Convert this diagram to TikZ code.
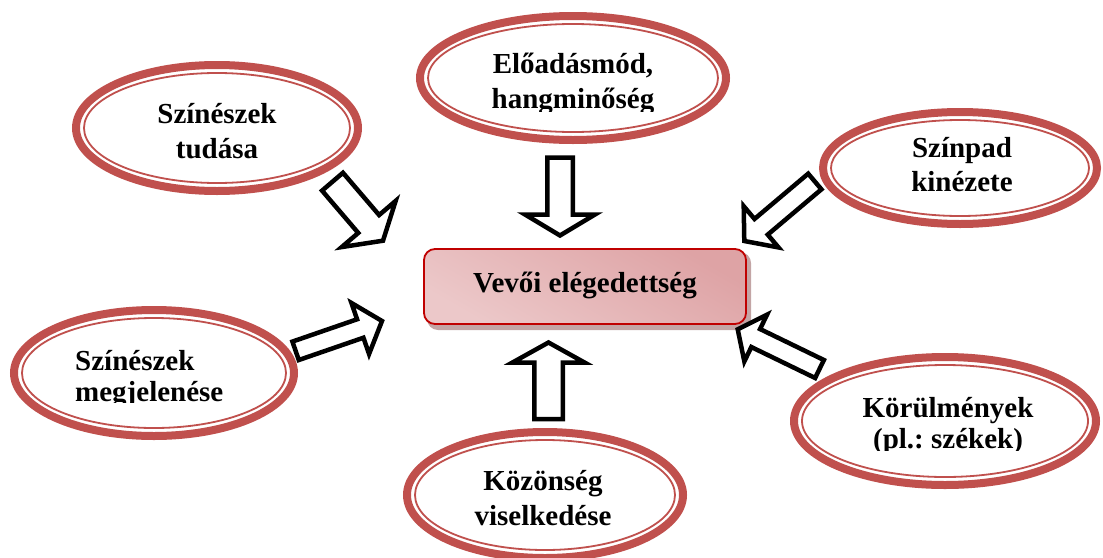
\documentclass[tikz,border=0pt]{standalone}
\usepackage{fontspec}
\setmainfont{Liberation Serif}
\frenchspacing
\usetikzlibrary{calc,shapes.geometric}
\definecolor{ringred}{RGB}{192,80,77}
\definecolor{boxred}{RGB}{192,0,0}
\definecolor{shadowc}{RGB}{195,165,165}
\definecolor{pinkA}{RGB}{236,200,201}
\definecolor{pinkB}{RGB}{247,232,233}
\definecolor{pinkC}{RGB}{222,163,165}
\tikzset{
  outerring/.style={ellipse, draw=ringred, line width=8pt, inner sep=0pt, fill=white},
  innerring/.style={ellipse, draw=ringred, line width=1.8pt, inner sep=0pt},
  lbl/.style={font=\bfseries\fontsize{29}{35}\selectfont, align=center, anchor=base, inner sep=0pt},
  barrow/.style={draw=black, line width=4.5pt, fill=white, line join=miter},
  centerbox/.style={draw=boxred, line width=1.8pt, rounded corners=11pt, inner sep=0pt,
    top color=pinkC, middle color=pinkB, bottom color=pinkA, shading angle=-30},
  boxshadow/.style={fill=shadowc, rounded corners=11pt},
}
\newcommand\ringnode[5]{%
  \node[outerring, minimum width={2*#4-8}, minimum height={2*#5-8}] (#1) at (#2,#3) {};
  \node[innerring, minimum width={2*#4-24}, minimum height={2*#5-24}] (#1in) at (#2,#3) {};
}
% tail, tip, half shaft, half head, head length
\newcommand\blockarrow[5]{%
  \path ($(#2)!#5!(#1)$) coordinate (hb);
  \draw[barrow] ($(#1)!#3!90:(#2)$) -- ($(hb)!#3!90:(#2)$) -- ($(hb)!#4!90:(#2)$) -- (#2)
    -- ($(hb)!#4!-90:(#2)$) -- ($(hb)!#3!-90:(#2)$) -- ($(#1)!#3!-90:(#2)$) -- cycle;
}
\begin{document}
\begin{tikzpicture}[x=1pt, y=-1pt]
\useasboundingbox (0,0) rectangle (1103,557);
\clip (0,0) rectangle (1103,557);

% ellipses
\ringnode{e1}{217}{128}{145}{67}
\ringnode{e2}{573}{78}{157}{66}
\ringnode{e3}{960}{168}{141}{60}
\ringnode{e4}{154}{373}{144}{67}
\ringnode{e5}{545}{495}{142}{67}
\ringnode{e6}{945}{421}{155}{68}

% labels (anchor = baseline of last line)
\node[lbl] (t1) at (217,158) {Színészek\\tudása};
\begin{scope}
  \clip (400,0) rectangle (750,111);
  \node[lbl] (t2) at (573,108) {Előadásmód,\\hangminőség};
\end{scope}
\node[lbl, font=\bfseries\fontsize{29}{34}\selectfont] (t3) at (962,191) {Színpad\\kinézete};
\begin{scope}
  \clip (0,320) rectangle (300,402.5);
  \node[lbl, anchor=base west, align=left, font=\bfseries\fontsize{29}{31}\selectfont] (t4) at (75,401) {Színészek\\megjelenése};
\end{scope}
\node[lbl] (t5) at (543,525) {Közönség\\viselkedése};
\begin{scope}
  \clip (780,370) rectangle (1103,450);
  \node[lbl, font=\bfseries\fontsize{29}{31}\selectfont] (t6) at (948,448) {Körülmények\\(pl.: székek)};
\end{scope}

% central box
\path[boxshadow] (427,252) rectangle (751,330);
\node[centerbox, minimum width=322pt, minimum height=75pt] (box) at (585,286.5) {};
\node[lbl] (tc) at (585,292) {Vevői elégedettség};

% arrows
\coordinate (aTt) at (560,157.5);   \coordinate (aTp) at (560,235.5);
\coordinate (aBt) at (548.5,419);   \coordinate (aBp) at (548.5,342.5);
\coordinate (aTLt) at (332.5,181.7); \coordinate (aTLp) at (383,240.7);
\coordinate (aTRt) at (814.8,181.5); \coordinate (aTRp) at (744.3,241);
\coordinate (aBLt) at (295.6,350.8); \coordinate (aBLp) at (382,321);
\coordinate (aBRt) at (819.5,369);   \coordinate (aBRp) at (737.7,329.3);

\blockarrow{aTt}{aTp}{12.75pt}{35pt}{21pt}
\blockarrow{aBt}{aBp}{14.25pt}{36pt}{20pt}
\blockarrow{aTLt}{aTLp}{13.75pt}{35.5pt}{22pt}
\blockarrow{aTRt}{aTRp}{10.25pt}{27pt}{22pt}
\blockarrow{aBLt}{aBLp}{9.75pt}{27pt}{23pt}
\blockarrow{aBRt}{aBRp}{10pt}{26pt}{20pt}
\end{tikzpicture}
\end{document}
